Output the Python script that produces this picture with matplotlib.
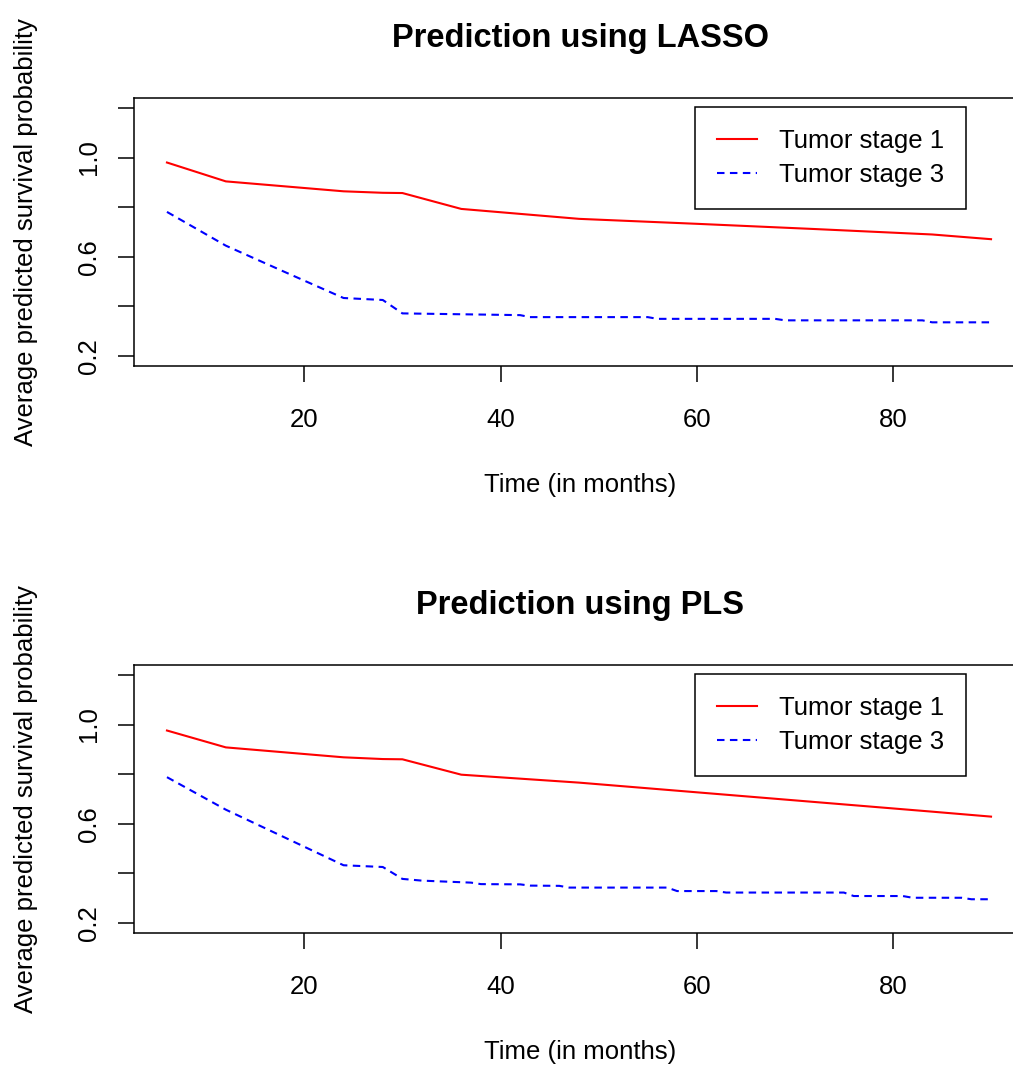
import numpy as np
import matplotlib
matplotlib.use("Agg")
import matplotlib.pyplot as plt
from matplotlib.ticker import FixedLocator, FixedFormatter

plt.rcParams['font.family'] = ['Liberation Sans', 'DejaVu Sans']

# LASSO panel
lasso_t1 = [6, 12, 24, 28, 30, 36, 48, 60, 72, 84, 90]
lasso_s1 = [0.980, 0.904, 0.864, 0.858, 0.857, 0.793, 0.753, 0.733, 0.712, 0.690, 0.671]
lasso_t3 = [6, 12, 18, 24, 28, 30, 42, 43, 55, 56, 68, 69, 83, 84, 90]
lasso_s3 = [0.781, 0.645, 0.539, 0.434, 0.426, 0.372, 0.365, 0.357, 0.357, 0.350,
            0.350, 0.344, 0.344, 0.336, 0.336]

# PLS panel
pls_t1 = [6, 12, 24, 28, 30, 36, 48, 60, 72, 84, 90]
pls_s1 = [0.976, 0.908, 0.868, 0.861, 0.860, 0.798, 0.766, 0.727, 0.688, 0.649, 0.629]
pls_t3 = [6, 12, 18, 24, 28, 30, 32, 37, 38, 42, 43, 46, 47, 57, 58, 62, 63,
          75, 76, 81, 82, 87, 88, 90]
pls_s3 = [0.788, 0.657, 0.545, 0.433, 0.426, 0.378, 0.371, 0.363, 0.357, 0.356,
          0.351, 0.350, 0.343, 0.343, 0.329, 0.329, 0.323, 0.323, 0.309, 0.309,
          0.302, 0.302, 0.296, 0.296]

legend_labels = ["Tumor stage 1", "Tumor stage 3"]
yticks = [0.2, 0.4, 0.6, 0.8, 1.0, 1.2]
yticklabels = ["0.2", "", "0.6", "", "1.0", ""]
xticks = [20, 40, 60, 80]

W, H = 1013, 1068
fig = plt.figure(figsize=(W / 100, H / 100), dpi=100)

FS = 18.5


def panel(top_px, title, t1, s1, t3, s3):
    left, right, height = 134, 1024, 268
    ax = fig.add_axes([left / W, 1 - (top_px + height) / H, (right - left) / W, height / H])
    ax.plot(t1, s1, color="red", lw=1.5, label=legend_labels[0])
    ax.plot(t3, s3, color="blue", lw=1.5, dashes=(3.6, 2.6), dash_capstyle="butt",
            label=legend_labels[1])
    ax.set_xlim(2.64, 93.36)
    ax.set_ylim(0.16, 1.24)
    ax.xaxis.set_major_locator(FixedLocator(xticks))
    ax.yaxis.set_major_locator(FixedLocator(yticks))
    ax.yaxis.set_major_formatter(FixedFormatter(yticklabels))
    ax.tick_params(direction="out", length=11.5, width=1.1, labelsize=FS)
    ax.tick_params(axis="x", pad=19)
    ax.tick_params(axis="y", pad=12, labelrotation=90)
    for lab in ax.get_yticklabels():
        lab.set_va("center")
    for sp in ax.spines.values():
        sp.set_linewidth(1.1)
    leg = ax.legend(loc="upper right", bbox_to_anchor=(0.9348, 0.9664), borderaxespad=0,
                    fontsize=FS, handlelength=1.56, handletextpad=0.85, borderpad=0.85,
                    labelspacing=0.4, fancybox=False, framealpha=1, edgecolor="black")
    leg.get_frame().set_linewidth(1.1)
    fig.text(580 / W, 1 - (top_px - 51) / H, title, ha="center", va="baseline",
             fontsize=23.5, fontweight="bold")
    fig.text(580 / W, 1 - (top_px + 394) / H, "Time (in months)", ha="center",
             va="baseline", fontsize=FS)
    fig.text(26 / W, 1 - (top_px + height / 2) / H, "Average predicted survival probability",
             ha="center", va="center", rotation=90, fontsize=FS)
    return ax


panel(98, "Prediction using LASSO", lasso_t1, lasso_s1, lasso_t3, lasso_s3)
panel(665, "Prediction using PLS", pls_t1, pls_s1, pls_t3, pls_s3)

fig.savefig("out.png", dpi=100)
